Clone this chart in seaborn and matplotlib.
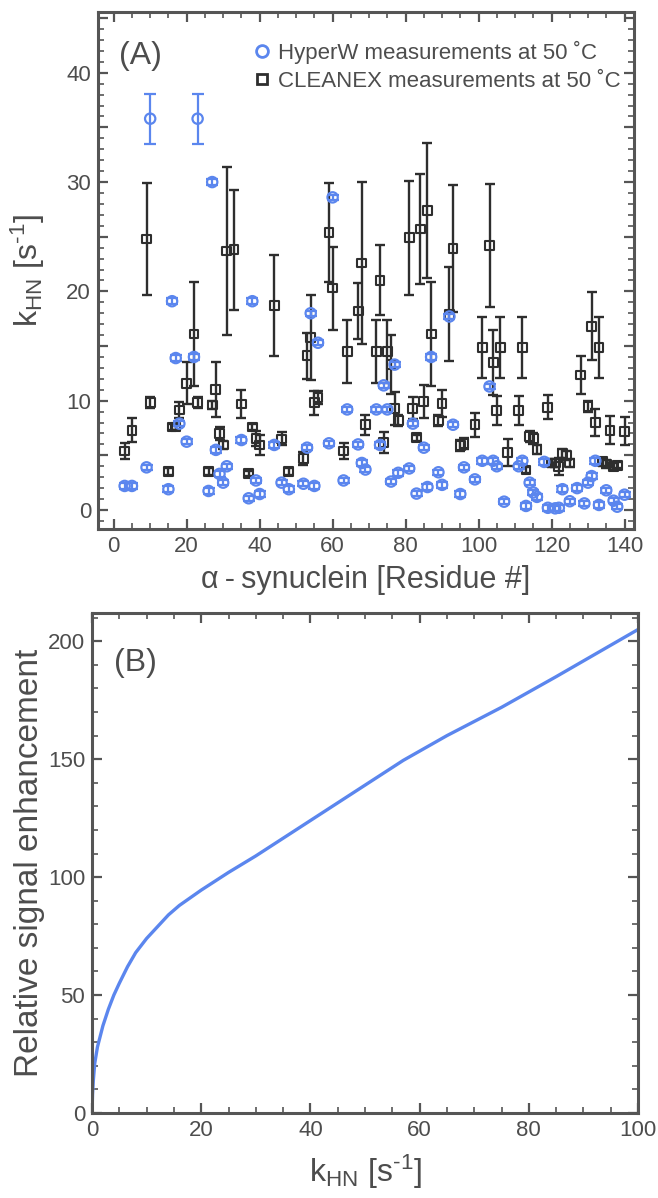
# HX rates of alpha-synuclein (HyperW vs CLEANEX) + signal enhancement curve
import numpy as np
import pandas as pd
import seaborn as sns
import matplotlib.pyplot as plt
from matplotlib.lines import Line2D
from matplotlib.ticker import MultipleLocator, FuncFormatter

sns.set_theme(style="ticks")
plt.rcParams["font.family"] = ["Liberation Sans", "DejaVu Sans"]
plt.rcParams["mathtext.fontset"] = "custom"
plt.rcParams["mathtext.rm"] = "Liberation Sans"
plt.rcParams["mathtext.default"] = "regular"

BLUE = "#5b86ee"
DARK = "#2e2e2e"
AXC = "#555555"
TXT = "#4d4d4d"

# ---- panel A: HyperW measurements ----
hw_res = [3, 5, 9, 10, 15, 16, 17, 18, 20, 22,
          23, 26, 27, 28, 29, 30, 31, 35, 37, 38,
          39, 40, 44, 46, 48, 52, 53, 54, 55, 56,
          59, 60, 63, 64, 67, 68, 69, 72, 73, 74,
          75, 76, 77, 78, 81, 82, 83, 85, 86, 87,
          89, 90, 92, 93, 95, 96, 99, 101, 103, 104,
          105, 107, 111, 112, 113, 114, 115, 116, 118, 119,
          121, 122, 123, 125, 127, 129, 130, 131, 132, 133,
          135, 137, 138, 140]
hw_k = [2.2, 2.2, 3.9, 35.8, 1.9, 19.1, 13.9, 7.9, 6.25, 14.0,
        35.8, 1.74, 30.0, 5.5, 3.3, 2.5, 4.0, 6.4, 1.07, 19.1,
        2.7, 1.46, 5.95, 2.5, 1.9, 2.4, 5.7, 18.0, 2.2, 15.3,
        6.1, 28.6, 2.7, 9.2, 6.0, 4.3, 3.7, 9.2, 5.95, 11.4,
        9.2, 2.6, 13.3, 3.4, 3.8, 7.9, 1.5, 5.7, 2.1, 14.0,
        3.45, 2.3, 17.7, 7.8, 1.46, 3.9, 2.8, 4.5, 11.3, 4.5,
        4.0, 0.76, 4.0, 4.5, 0.37, 2.5, 1.6, 1.2, 4.4, 0.2,
        0.15, 0.2, 1.9, 0.8, 2.0, 0.6, 2.5, 3.1, 4.5, 0.46,
        1.8, 0.85, 0.3, 1.4]
hw_err = [0.25, 0.25, 0.25, 2.3, 0.25, 0.25, 0.25, 0.25, 0.25, 0.25,
          2.3, 0.25, 0.25, 0.25, 0.25, 0.25, 0.25, 0.25, 0.25, 0.25,
          0.25, 0.25, 0.25, 0.25, 0.25, 0.25, 0.25, 0.25, 0.25, 0.25,
          0.25, 0.25, 0.25, 0.25, 0.25, 0.25, 0.25, 0.25, 0.25, 0.25,
          0.25, 0.25, 0.25, 0.25, 0.25, 0.25, 0.25, 0.25, 0.25, 0.25,
          0.25, 0.25, 0.25, 0.25, 0.25, 0.25, 0.25, 0.25, 0.25, 0.25,
          0.25, 0.25, 0.25, 0.25, 0.25, 0.25, 0.25, 0.25, 0.25, 0.25,
          0.25, 0.25, 0.25, 0.25, 0.25, 0.25, 0.25, 0.25, 0.25, 0.25,
          0.25, 0.25, 0.25, 0.25]

# ---- panel A: CLEANEX measurements ----
cx_res = [3, 5, 9, 10, 15, 16, 17, 18, 20, 22,
          23, 26, 27, 28, 29, 30, 31, 33, 35, 37,
          38, 39, 40, 44, 46, 48, 52, 53, 54, 55,
          56, 59, 60, 63, 64, 67, 68, 69, 72, 73,
          74, 75, 76, 77, 78, 81, 82, 83, 84, 85,
          86, 87, 89, 90, 92, 93, 95, 96, 99, 101,
          103, 104, 105, 106, 108, 111, 112, 113, 114, 115,
          116, 119, 120, 121, 122, 123, 124, 125, 128, 130,
          131, 132, 133, 134, 135, 136, 137, 138, 140]
cx_k = [5.4, 7.3, 24.8, 9.85, 3.5, 7.6, 7.6, 9.15, 11.6, 16.1,
        9.85, 3.5, 9.6, 11.0, 7.0, 5.95, 23.7, 23.8, 9.7, 3.35,
        7.6, 6.55, 5.95, 18.7, 6.5, 3.5, 4.7, 14.1, 15.8, 9.8,
        10.3, 25.4, 20.3, 5.4, 14.5, 18.2, 22.6, 7.8, 14.5, 21.0,
        6.2, 14.5, 13.3, 9.3, 8.2, 24.9, 9.3, 6.6, 25.7, 9.9,
        27.4, 16.1, 8.2, 9.75, 17.9, 23.9, 5.9, 6.1, 7.8, 14.9,
        24.2, 13.5, 9.1, 14.9, 5.25, 9.1, 14.9, 3.65, 6.7, 6.55,
        5.5, 9.4, 4.3, 4.3, 4.0, 5.2, 5.0, 4.3, 12.35, 9.45,
        16.8, 8.0, 14.9, 4.4, 4.2, 7.3, 4.0, 4.1, 7.2]
cx_err = [0.7, 1.1, 5.1, 0.5, 0.3, 0.3, 0.3, 0.75, 1.9, 4.8,
          0.5, 0.3, 0.4, 2.5, 0.6, 0.4, 7.7, 5.5, 1.3, 0.2,
          0.3, 0.7, 0.9, 4.6, 0.6, 0.3, 0.6, 2.1, 3.9, 1.1,
          0.6, 4.5, 3.8, 0.7, 2.9, 2.6, 7.4, 0.9, 2.9, 3.2,
          0.95, 2.9, 2.7, 1.5, 0.5, 5.2, 1.0, 0.3, 5.0, 1.5,
          6.2, 4.8, 0.5, 1.2, 4.3, 5.8, 0.5, 0.5, 1.1, 2.8,
          5.6, 3.0, 1.3, 2.8, 1.2, 1.3, 2.8, 0.3, 0.5, 0.5,
          0.4, 1.1, 0.4, 0.4, 0.8, 0.4, 0.4, 0.4, 1.75, 0.5,
          3.1, 1.2, 2.8, 0.4, 0.4, 1.3, 0.3, 0.3, 1.3]

# ---- panel B: relative signal enhancement vs kHN ----
kb = [0, 0.1, 0.25, 0.5, 1, 2, 3, 4, 5, 6.5, 8, 10, 12, 14, 16,
      20, 25, 30, 40, 50, 57, 65, 75, 85, 100]
enh = [0, 8, 14, 21, 28, 37, 44, 50, 55, 62, 68, 74, 79, 84, 88,
       94.5, 102, 109, 124, 139, 149.5, 160, 172, 185, 205]

hw = pd.DataFrame({"res": hw_res, "k": hw_k, "err": hw_err})
cx = pd.DataFrame({"res": cx_res, "k": cx_k, "err": cx_err})
curve = pd.DataFrame({"k": kb, "enh": enh})

KHN = r"k$_{HN}$ [s$^{\text{-}1}$]"

fig = plt.figure(figsize=(6.58, 11.98), dpi=100)
ax1 = fig.add_axes([98 / 658, 1 - 529 / 1198, 536 / 658, 517 / 1198])
ax2 = fig.add_axes([92 / 658, 1 - 1113 / 1198, 546 / 658, 500 / 1198])

# CLEANEX first, HyperW on top
ax1.errorbar(cx["res"], cx["k"], yerr=cx["err"], fmt="none", ecolor=DARK,
             elinewidth=1.7, capsize=3.6, capthick=1.7, zorder=2)
sns.scatterplot(data=cx, x="res", y="k", ax=ax1, marker="s", s=40,
                facecolor="none", edgecolor=DARK, linewidth=1.5, zorder=3)
ax1.errorbar(hw["res"], hw["k"], yerr=hw["err"], fmt="none", ecolor=BLUE,
             elinewidth=1.6, capsize=4.2, capthick=1.6, zorder=4)
sns.scatterplot(data=hw, x="res", y="k", ax=ax1, marker="o", s=55,
                facecolor="none", edgecolor=BLUE, linewidth=1.6, zorder=5)

ax1.set_xlim(-4.3, 142.6)
ax1.set_ylim(-1.74, 45.56)
ax1.xaxis.set_major_locator(MultipleLocator(20))
ax1.xaxis.set_minor_locator(MultipleLocator(5))
ax1.yaxis.set_major_locator(MultipleLocator(5))
ax1.yaxis.set_minor_locator(MultipleLocator(1))
ax1.yaxis.set_major_formatter(
    FuncFormatter(lambda v, p: f"{v:.0f}" if round(v) % 10 == 0 else ""))
ax1.set_xlabel(u"\u03b1\u2009-\u2009synuclein [Residue #]", fontsize=22, color=TXT)
ax1.set_ylabel(KHN, fontsize=23, color=TXT)
ax1.text(0.04, 0.915, "(A)", transform=ax1.transAxes, fontsize=23,
         color=TXT, ha="left", va="center")

handles = [
    Line2D([], [], ls="none", marker="o", ms=8.5, mfc="none", mec=BLUE, mew=2),
    Line2D([], [], ls="none", marker="s", ms=7.5, mfc="none", mec=DARK, mew=2),
]
leg = ax1.legend(handles, [u"HyperW measurements at 50 \u02daC",
                           u"CLEANEX measurements at 50 \u02daC"],
                 loc="upper right", bbox_to_anchor=(1.0, 0.97), frameon=False,
                 fontsize=16, handletextpad=0.2, handlelength=1.0,
                 labelspacing=0.3, borderaxespad=0.2)
for t in leg.get_texts():
    t.set_color(TXT)

sns.lineplot(data=curve, x="k", y="enh", ax=ax2, color=BLUE, linewidth=2.4)
ax2.set_xlim(0, 100)
ax2.set_ylim(0, 212)
ax2.xaxis.set_major_locator(MultipleLocator(20))
ax2.xaxis.set_minor_locator(MultipleLocator(5))
ax2.yaxis.set_major_locator(MultipleLocator(50))
ax2.yaxis.set_minor_locator(MultipleLocator(10))
ax2.set_xlabel(KHN, fontsize=23, color=TXT)
ax2.set_ylabel("Relative signal enhancement", fontsize=24, color=TXT)
ax2.text(0.04, 0.9, "(B)", transform=ax2.transAxes, fontsize=23,
         color=TXT, ha="left", va="center")

for ax in (ax1, ax2):
    ax.tick_params(which="both", direction="in", top=True, right=True,
                   color=AXC, labelcolor=TXT, labelsize=16)
    ax.tick_params(which="major", length=7, width=1.6, pad=5)
    ax.tick_params(which="minor", length=4, width=1.2)
    for sp in ax.spines.values():
        sp.set_color(AXC)
        sp.set_linewidth(2.2)

ax1.xaxis.set_label_coords(0.5, -0.07)
ax1.yaxis.set_label_coords(-0.095, 0.5)
ax2.xaxis.set_label_coords(0.5, -0.08)
ax2.yaxis.set_label_coords(-0.086, 0.5)

fig.savefig("out.png", dpi=100)
